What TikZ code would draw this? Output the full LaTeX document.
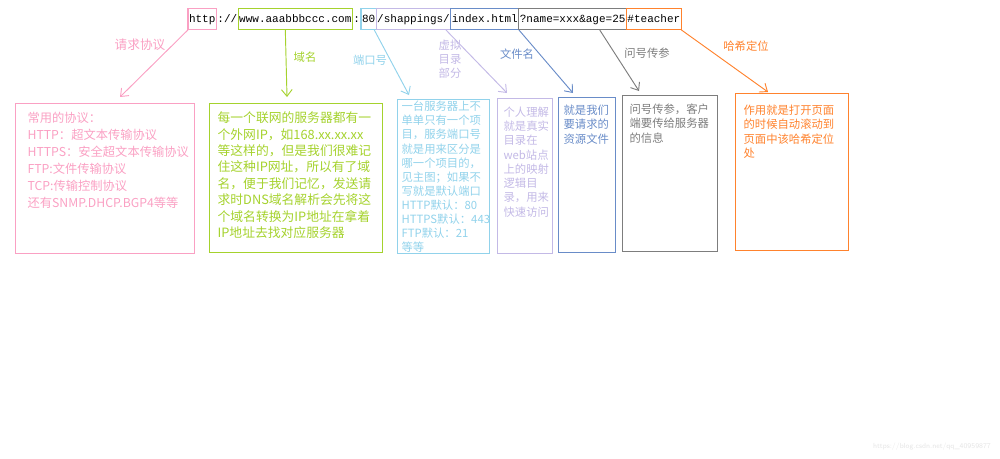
\documentclass[tikz,border=0pt]{standalone}
\usepackage{fontspec}
\setmainfont{Noto Sans CJK SC}
\newfontfamily\urlfont{Liberation Mono}
\usetikzlibrary{positioning,arrows.meta,calc}

\definecolor{protc}{RGB}{250,160,195}
\definecolor{domc}{RGB}{165,210,45}
\definecolor{portc}{RGB}{145,210,235}
\definecolor{pathc}{RGB}{195,185,230}
\definecolor{filec}{RGB}{105,140,200}
\definecolor{queryc}{RGB}{125,125,125}
\definecolor{hashc}{RGB}{255,130,45}

\tikzset{
  seg/.style={font=\urlfont\fontsize{8.25}{10}\selectfont, inner xsep=0.75pt, inner ysep=3.5pt,
    text height=7pt, text depth=2.3pt, outer sep=0pt, line width=0.9pt},
  infobox/.style={draw=#1, text=#1, anchor=north west, align=left, inner ysep=0pt, line width=0.9pt},
  tag/.style={text=#1, font=\fontsize{8.5}{10.5}\selectfont, align=center},
  pointer/.style={draw=#1, line width=0.7pt, -{Straight Barb[length=5pt,width=8pt]}}
}

\begin{document}
\begin{tikzpicture}[x=0.75pt,y=-0.75pt]
\useasboundingbox (0,0) rectangle (1000,458);

% the url, piece by piece
\node[seg, draw=protc, anchor=west] (prot) at (188,19) {http};
\node[seg, right=0pt of prot] (sep1) {://};
\node[seg, draw=domc, right=0pt of sep1] (dom) {www.aaabbbccc.com};
\node[seg, right=0pt of dom] (sep2) {:};
\node[seg, draw=portc, right=0pt of sep2] (port) {80};
\node[seg, draw=pathc, right=0pt of port] (vpath) {/shappings/};
\node[seg, draw=filec, right=0pt of vpath] (file) {index.html};
\node[seg, draw=queryc, right=0pt of file] (query) {?name=xxx\&age=25};
\node[seg, draw=hashc, right=0pt of query] (hash) {\#teacher};

% boxes
\node[infobox=protc, font=\fontsize{9.2}{12.75}\selectfont, inner xsep=9pt, text width=116.25pt,
  text height=14.25pt, text depth=98.25pt] (protbox) at (15,103)
  {常用的协议：\\HTTP：超文本传输协议\\HTTPS：安全超文本传输协议\\FTP:文件传输协议\\TCP:传输控制协议\\还有SNMP.DHCP.BGP4等等};
\node[infobox=domc, font=\fontsize{9.6}{12.3}\selectfont, inner xsep=6pt, text width=117.75pt,
  text height=14.25pt, text depth=97.5pt] (dombox) at (209,103)
  {每一个联网的服务器都有一\\个外网IP，如168.xx.xx.xx\\等这样的，但是我们很难记\\住这种IP网址，所以有了域\\名，便于我们记忆，发送请\\求时DNS域名解析会先将这\\个域名转换为IP地址在拿着\\IP地址去找对应服务器};
\node[infobox=portc, font=\fontsize{8.5}{10.6}\selectfont, inner xsep=3pt, text width=63pt,
  text height=8.25pt, text depth=107.25pt] (portbox) at (397,99)
  {一台服务器上不\\单单只有一个项\\目，服务端口号\\就是用来区分是\\哪一个项目的，\\见主图；如果不\\写就是默认端口\\HTTP默认：80\\HTTPS默认：443\\FTP默认：21\\等等};
\node[infobox=pathc, font=\fontsize{8.5}{10.7}\selectfont, inner xsep=4.5pt, text width=32.25pt,
  text height=13.3pt, text depth=102.95pt] (pathbox) at (497,98)
  {个人理解\\就是真实\\目录在\\web站点\\上的映射\\逻辑目\\录，用来\\快速访问};
\node[infobox=filec, font=\fontsize{8.5}{10.65}\selectfont, inner xsep=3.75pt, text width=35.25pt,
  text height=12.75pt, text depth=103.5pt] (filebox) at (558,97)
  {就是我们\\要请求的\\资源文件};
\node[infobox=queryc, font=\fontsize{8.5}{10.65}\selectfont, inner xsep=5.25pt, text width=60.75pt,
  text height=13.5pt, text depth=103.5pt] (querybox) at (622,95)
  {问号传参，客户\\端要传给服务器\\的信息};
\node[infobox=hashc, font=\fontsize{8.5}{10.65}\selectfont, inner xsep=6pt, text width=72.75pt,
  text height=15.75pt, text depth=102pt] (hashbox) at (735,93)
  {作用就是打开页面\\的时候自动滚动到\\页面中该哈希定位\\处};

% labels
\node[tag=protc, font=\fontsize{9.5}{11}\selectfont] (protlbl) at (140,45) {请求协议};
\node[tag=domc] (domlbl) at (305,57) {域名};
\node[tag=portc] (portlbl) at (370,60) {端口号};
\node[tag=pathc] (pathlbl) at (450,59) {虚拟\\目录\\部分};
\node[tag=filec] (filelbl) at (517,54) {文件名};
\node[tag=queryc] (querylbl) at (647,53) {问号传参};
\node[tag=hashc] (hashlbl) at (746,46) {哈希定位};

% arrows
\draw[pointer=protc] (prot.south west) -- ($(protbox.north west)+(105,-6)$);
\draw[pointer=domc] ($(dom.south)+(-10,0)$) -- ($(dombox.north west)+(78,-6)$);
\draw[pointer=portc] ($(port.south east)+(-2,0)$) -- ($(portbox.north west)+(12,-4)$);
\draw[pointer=pathc] ($(vpath.south east)+(-5,0)$) -- ($(pathbox.north west)+(10,-5)$);
\draw[pointer=filec] (file.south east) -- ($(filebox.north west)+(15,-4)$);
\draw[pointer=queryc] ($(query.south)+(27,0)$) -- ($(querybox.north west)+(17,-4)$);
\draw[pointer=hashc] (hash.south east) -- ($(hashbox.north west)+(33,-1)$);

\node[text=black!10, font=\sffamily\fontsize{5.5}{6}\selectfont] (mark) at (932,447) {https://blog.csdn.net/qq\_40959877};
\end{tikzpicture}
\end{document}
